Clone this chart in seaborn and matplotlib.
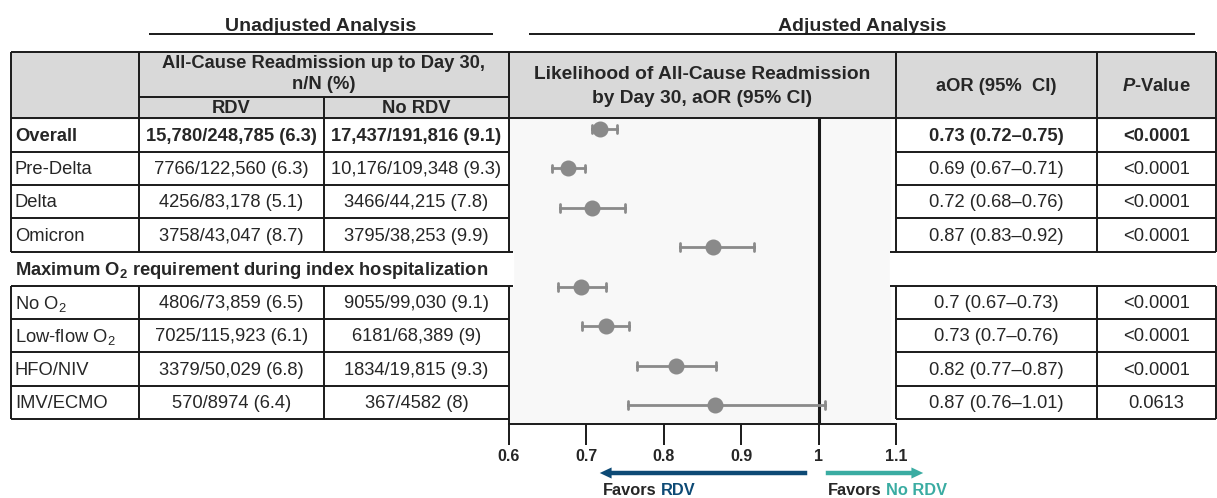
import pandas as pd
import matplotlib
matplotlib.use("Agg")
import matplotlib.pyplot as plt
import seaborn as sns
from matplotlib.patches import Rectangle, FancyArrowPatch

# table content
row_labels = ["Overall", "Pre-Delta", "Delta", "Omicron",
              "No O$_2$", "Low-flow O$_2$", "HFO/NIV", "IMV/ECMO"]
rdv_counts = ["15,780/248,785 (6.3)", "7766/122,560 (6.3)", "4256/83,178 (5.1)", "3758/43,047 (8.7)",
              "4806/73,859 (6.5)", "7025/115,923 (6.1)", "3379/50,029 (6.8)", "570/8974 (6.4)"]
no_rdv_counts = ["17,437/191,816 (9.1)", "10,176/109,348 (9.3)", "3466/44,215 (7.8)", "3795/38,253 (9.9)",
                 "9055/99,030 (9.1)", "6181/68,389 (9)", "1834/19,815 (9.3)", "367/4582 (8)"]
aor_text = ["0.73 (0.72–0.75)", "0.69 (0.67–0.71)", "0.72 (0.68–0.76)", "0.87 (0.83–0.92)",
            "0.7 (0.67–0.73)", "0.73 (0.7–0.76)", "0.82 (0.77–0.87)", "0.87 (0.76–1.01)"]
p_values = ["<0.0001", "<0.0001", "<0.0001", "<0.0001",
            "<0.0001", "<0.0001", "<0.0001", "0.0613"]
section_label = "Maximum O$_2$ requirement during index hospitalization"

# forest plot values (as drawn)
aor_est = [0.718, 0.676, 0.707, 0.864, 0.693, 0.725, 0.816, 0.866]
aor_lo = [0.707, 0.656, 0.666, 0.821, 0.663, 0.694, 0.765, 0.754]
aor_hi = [0.740, 0.698, 0.750, 0.917, 0.725, 0.755, 0.867, 1.008]
x_ticks = [0.6, 0.7, 0.8, 0.9, 1.0, 1.1]
x_ticklabels = ["0.6", "0.7", "0.8", "0.9", "1", "1.1"]

sns.set_style("white")
plt.rcParams["font.family"] = ["Liberation Sans", "DejaVu Sans"]
plt.rcParams["mathtext.fontset"] = "custom"
plt.rcParams["mathtext.rm"] = "Liberation Sans"
plt.rcParams["mathtext.it"] = "Liberation Sans:italic:bold"
plt.rcParams["mathtext.bf"] = "Liberation Sans:bold"
plt.rcParams["mathtext.default"] = "regular"

W, H = 1217, 498
fig = plt.figure(figsize=(W / 100, H / 100), dpi=100)
bg = fig.add_axes([0, 0, 1, 1])
bg.set_xlim(0, W)
bg.set_ylim(H, 0)
bg.axis("off")

lc = "#1a1a1a"
lw = 1.4
hdr_gray = "#d9d9d9"
fs = 13.2

def hline(x0, x1, y):
    bg.plot([x0, x1], [y, y], color=lc, lw=lw, solid_capstyle="butt", zorder=3)

def vline(x, y0, y1):
    bg.plot([x, x], [y0, y1], color=lc, lw=lw, solid_capstyle="butt", zorder=3)

# section titles
bg.text(321, 31, "Unadjusted Analysis", ha="center", va="baseline", fontsize=14, fontweight="bold")
bg.text(862, 31, "Adjusted Analysis", ha="center", va="baseline", fontsize=14, fontweight="bold")
hline(149, 493, 34)
hline(529, 1195, 34)

# geometry
xL, xC1, xC2, xR = 11, 139, 324, 509
xF = 896
xP = 1097
xE = 1216
y_top, y_sub, y_hdr = 52, 97, 118
edges = [118, 152, 185, 218, 252, 286, 319, 352, 386, 419]

# header fills
bg.add_patch(Rectangle((xL, y_top), xE - xL, y_hdr - y_top, color=hdr_gray, zorder=1))
# forest background
bg.add_patch(Rectangle((xR, y_hdr), 890 - xR, 424 - y_hdr, color="#f8f8f8", zorder=1))
# section band (white on both sides)
bg.add_patch(Rectangle((xL, edges[4]), 513 - xL, edges[5] - edges[4], color="white", zorder=2))
bg.add_patch(Rectangle((890, edges[4]), xE - 890, edges[5] - edges[4], color="white", zorder=2))

# horizontal lines
hline(xL, xE, y_top)
hline(xC1, xR, y_sub)
hline(xL, xE, y_hdr)
for i, y in enumerate(edges[1:], start=1):
    if i in (4, 5):
        hline(xL, 513, y)
        hline(890, xE, y)
    else:
        hline(xL, xR, y)
        hline(xF, xE, y)

# vertical lines (skip section band)
for x, y0 in [(xL, y_top), (xC1, y_top), (xC2, y_sub), (xR, y_top), (xF, y_top), (xP, y_top), (xE, y_top)]:
    vline(x, y0, edges[4])
    vline(x, edges[5], edges[-1])
vline(xR, edges[-1], 424)

# header texts
bg.text((xC1 + xR) / 2, 63, "All-Cause Readmission up to Day 30,", ha="center", va="center",
        fontsize=fs, fontweight="bold")
bg.text((xC1 + xR) / 2, 84, "n/N (%)", ha="center", va="center", fontsize=fs, fontweight="bold")
bg.text((xC1 + xC2) / 2, 108, "RDV", ha="center", va="center", fontsize=fs, fontweight="bold")
bg.text((xC2 + xR) / 2, 108, "No RDV", ha="center", va="center", fontsize=fs, fontweight="bold")
bg.text((xR + xF) / 2, 74, "Likelihood of All-Cause Readmission", ha="center", va="center",
        fontsize=13.8, fontweight="bold")
bg.text((xR + xF) / 2, 98, "by Day 30, aOR (95% CI)", ha="center", va="center",
        fontsize=13.8, fontweight="bold")
bg.text((xF + xP) / 2, 86, "aOR (95%  CI)", ha="center", va="center", fontsize=fs, fontweight="bold")
bg.text((xP + xE) / 2, 86, r"$\mathit{P}$-Value", ha="center", va="center", fontsize=fs, fontweight="bold")

# body rows
slots = [0, 1, 2, 3, 5, 6, 7, 8]
for i, s in enumerate(slots):
    yc = (edges[s] + edges[s + 1]) / 2 + 1
    w = "bold" if i == 0 else "normal"
    bg.text(15, yc, row_labels[i], ha="left", va="center", fontsize=fs, fontweight=w)
    bg.text((xC1 + xC2) / 2, yc, rdv_counts[i], ha="center", va="center", fontsize=fs, fontweight=w)
    bg.text((xC2 + xR) / 2, yc, no_rdv_counts[i], ha="center", va="center", fontsize=fs, fontweight=w)
    bg.text((xF + xP) / 2, yc, aor_text[i], ha="center", va="center", fontsize=fs, fontweight=w)
    bg.text((xP + xE) / 2, yc, p_values[i], ha="center", va="center", fontsize=fs, fontweight=w)
bg.text(15, (edges[4] + edges[5]) / 2 + 1, section_label, ha="left", va="center",
        fontsize=fs, fontweight="bold")

# forest plot
groups = ["Overall", "Pre-Delta", "Delta", "Omicron", "No O2", "Low-flow O2", "HFO/NIV", "IMV/ECMO"]
long_df = pd.DataFrame({
    "group": [g for g in groups for _ in range(3)],
    "value": [v for trio in zip(aor_lo, aor_est, aor_hi) for v in trio],
})

ax = fig.add_axes([xR / W, (H - 424) / H, (xF - xR) / W, (424 - y_hdr) / H])
ax.set_zorder(5)
ax.patch.set_alpha(0)
sns.pointplot(data=long_df, x="value", y="group", order=groups, orient="y",
              estimator="median", errorbar=lambda v: (v.min(), v.max()),
              capsize=0.2, linestyle="none", marker="o", markersize=9.5,
              color="#8a8a8a", err_kws={"linewidth": 2.0}, ax=ax)
ax.axvline(1.0, color=lc, lw=2.2, zorder=1)
ax.set_xlim(0.6, 1.1)
ax.set_ylim(7.48, -0.28)
ax.set_yticks([])
ax.set_xlabel("")
ax.set_ylabel("")
ax.set_xticks(x_ticks)
ax.set_xticklabels(x_ticklabels, fontsize=11.5, fontweight="bold")
ax.tick_params(axis="x", direction="out", length=15, width=1.4, color=lc, pad=3, bottom=True)
for side in ["top", "right", "left"]:
    ax.spines[side].set_visible(False)
ax.spines["bottom"].set_color(lc)
ax.spines["bottom"].set_linewidth(1.4)

# favors arrows
blue = "#0d4a75"
teal = "#3aaca2"
astyle = "simple,head_length=0.85,head_width=0.8,tail_width=0.32"
bg.add_patch(FancyArrowPatch((810, 473), (597, 473), arrowstyle=astyle, mutation_scale=10,
                             color=blue, lw=0, zorder=4))
bg.add_patch(FancyArrowPatch((823, 473), (926, 473), arrowstyle=astyle, mutation_scale=10,
                             color=teal, lw=0, zorder=4))
t1 = bg.text(603, 497.5, "Favors", ha="left", va="bottom", fontsize=11.8, fontweight="bold")
bg.annotate("RDV", xy=(1, 0), xycoords=t1, xytext=(3.3, 0), textcoords="offset points",
            ha="left", va="bottom", fontsize=11.8, fontweight="bold", color=blue)
t2 = bg.text(828, 497.5, "Favors", ha="left", va="bottom", fontsize=11.8, fontweight="bold")
bg.annotate("No RDV", xy=(1, 0), xycoords=t2, xytext=(3.3, 0), textcoords="offset points",
            ha="left", va="bottom", fontsize=11.8, fontweight="bold", color=teal)

fig.savefig("out.png", dpi=100)
